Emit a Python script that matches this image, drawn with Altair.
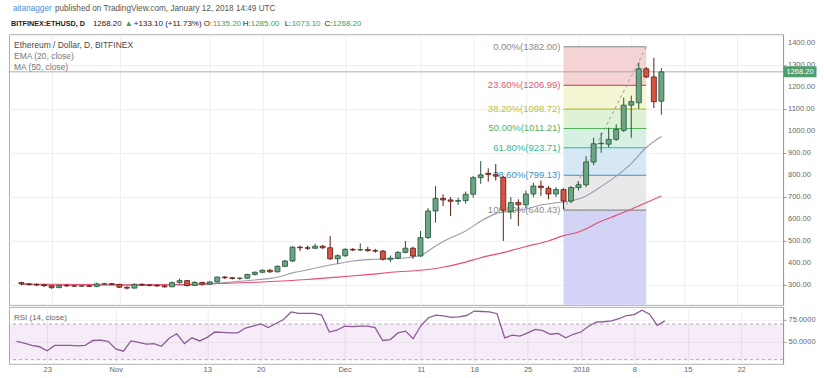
import altair as alt
import pandas as pd

START = "2017-10-19"
N = 86

opens = [312, 306, 303, 302, 298, 289, 299, 297, 296, 297,
         295, 306, 307, 304, 291, 287, 304, 301, 299, 297,
         293, 312, 321, 299, 313, 305, 315, 337, 334, 331,
         332, 349, 359, 368, 361, 386, 410, 473, 470, 468,
         477, 470, 420, 434, 463, 460, 462, 457, 455, 418,
         423, 449, 468, 433, 516, 637, 694, 687, 681, 684,
         713, 788, 808, 802, 790, 635, 675, 665, 714, 750,
         740, 714, 734, 682, 743, 756, 859, 942, 940, 962,
         1003, 1117, 1128, 1282, 1245, 1135.2]
highs = [316, 309, 308, 304, 300, 302, 304, 300, 301, 300,
         312, 311, 310, 306, 295, 308, 309, 305, 304, 299,
         317, 330, 324, 318, 315, 318, 340, 341, 337, 336,
         352, 362, 372, 374, 390, 415, 477, 479, 480, 488,
         483, 524, 440, 468, 468, 490, 474, 465, 460, 435,
         455, 501, 475, 546, 650, 750, 712, 700, 697, 725,
         795, 863, 830, 850, 795, 700, 690, 730, 765, 775,
         750, 745, 740, 750, 770, 886, 969, 992, 1015, 1030,
         1151, 1160, 1310, 1290, 1332, 1285]
lows = [300, 299, 296, 292, 284, 288, 293, 293, 292, 292,
        291, 302, 301, 287, 281, 285, 297, 295, 293, 289,
        291, 307, 294, 297, 298, 302, 312, 328, 326, 324,
        328, 344, 355, 356, 358, 382, 405, 455, 460, 465,
        465, 415, 398, 428, 455, 455, 452, 448, 412, 405,
        418, 445, 420, 428, 510, 584, 660, 614, 665, 670,
        698, 760, 770, 775, 501, 600, 569, 650, 700, 705,
        690, 700, 646, 672, 730, 745, 845, 901, 925, 955,
        995, 969, 1100, 1240, 1104, 1073.1]
closes = [306, 303, 302, 298, 289, 299, 297, 296, 297, 295,
          306, 307, 304, 291, 287, 304, 301, 299, 297, 293,
          312, 321, 299, 313, 305, 315, 337, 334, 331, 332,
          349, 359, 368, 361, 386, 410, 473, 470, 468, 477,
          470, 420, 434, 463, 460, 462, 457, 455, 418, 423,
          449, 468, 433, 516, 637, 694, 687, 681, 684, 713,
          788, 801, 802, 795, 640, 675, 665, 714, 750, 743,
          714, 734, 682, 743, 756, 859, 942, 944, 962, 1007,
          1117, 1133, 1282, 1245, 1133, 1268.2]

ema_dates = ["2017-10-19", "2017-10-24", "2017-10-29", "2017-11-03", "2017-11-08",
             "2017-11-13", "2017-11-16", "2017-11-19", "2017-11-22", "2017-11-24",
             "2017-11-26", "2017-11-28", "2017-11-30", "2017-12-02", "2017-12-05",
             "2017-12-08", "2017-12-11", "2017-12-13", "2017-12-15", "2017-12-17",
             "2017-12-19", "2017-12-21", "2017-12-23", "2017-12-25", "2017-12-27",
             "2017-12-29", "2017-12-31", "2018-01-02", "2018-01-04", "2018-01-06",
             "2018-01-08", "2018-01-10", "2018-01-12"]
ema_vals = [305, 300, 300, 299, 302, 306, 315, 324, 336, 356, 370, 385, 398, 410, 418,
            421, 436, 478, 515, 546, 590, 625, 637, 646, 664, 674, 682, 705, 748, 795,
            852, 925, 975]

ma_dates = ["2017-10-19", "2017-11-01", "2017-11-10", "2017-11-14", "2017-11-20",
            "2017-11-26", "2017-11-30", "2017-12-04", "2017-12-08", "2017-12-11",
            "2017-12-14", "2017-12-17", "2017-12-19", "2017-12-22", "2017-12-25",
            "2017-12-28", "2017-12-30", "2018-01-01", "2018-01-04", "2018-01-06",
            "2018-01-08", "2018-01-10", "2018-01-12"]
ma_vals = [306, 302, 303, 308, 315, 326, 337, 348, 361, 368, 382, 405, 425, 448, 476,
           501, 525, 542, 590, 617, 645, 675, 705]

rsi_vals = [50.5, 48.5, 46, 44.5, 40, 46, 46, 46, 45.5, 46,
            51.5, 52, 50.5, 42, 39.5, 51, 49.5, 47.5, 48, 45,
            54, 59, 48, 54.5, 51, 55, 61, 60.5, 60, 60,
            65.5, 67.5, 70, 66, 70.5, 75, 83.5, 82, 82, 82,
            80, 61, 63, 67.5, 67, 67.5, 67.5, 66, 51.5, 52.5,
            60, 62, 53.5, 68, 77, 80, 79, 77.5, 78, 79.5,
            84.5, 84, 83.5, 81.5, 54.5, 57.5, 56.5, 60, 64, 62.5,
            58.5, 59.5, 54.5, 58.5, 61, 67.5, 72, 72.5, 73.5, 76,
            79.5, 80.5, 85.5, 81, 68.5, 73.5]

tick_dates = ["2017-10-23", "2017-11-01", "2017-11-13", "2017-11-20", "2017-12-01",
              "2017-12-11", "2017-12-18", "2017-12-25", "2018-01-01", "2018-01-08",
              "2018-01-15", "2018-01-22"]
tick_labels = ["23", "Nov", "13", "20", "Dec", "11", "18", "25", "2018", "8", "15", "22"]
price_ticks = [300, 400, 500, 600, 700, 800, 900, 1000, 1100, 1200, 1300, 1400]
rsi_ticks = [50, 75]

fib_start, fib_end = "2017-12-30", "2018-01-10"
fib_pcts = [0.0, 23.6, 38.2, 50.0, 61.8, 78.6, 100.0]
fib_prices = [1382.00, 1206.99, 1098.72, 1011.21, 923.71, 799.13, 640.43]
fib_ext_price = 182.15
fib_line_colors = ["#8a8a8a", "#dc5a6a", "#b9c23c", "#55b45a", "#2fb8a0", "#3a92c6", "#8a8a8a"]
fib_band_colors = ["#f5d2d4", "#f3f5d3", "#e0f2d6", "#d7f0e4", "#d6e8f4", "#e9e9e9"]
fib_ext_color = "#d3d3f6"
last_close = 1268.20

UP_FILL, DOWN_FILL = "#6ba583", "#d75442"
UP_LINE, DOWN_LINE = "#225437", "#5b1a13"
EMA_COLOR, MA_COLOR, RSI_COLOR = "#9a9cad", "#e64d72", "#8d5a97"
FONT = "Liberation Sans"


def day(s):
    return (pd.Timestamp(s) - pd.Timestamp(START)).days


tick_days = [day(t) for t in tick_dates]
label_expr = "".join(f"datum.value == {d} ? '{l}' : " for d, l in zip(tick_days, tick_labels)) + "''"

W, H_MAIN, H_RSI = 775, 271, 57
xs = alt.Scale(domain=[-1.0, 100.5], nice=False, zero=False)
ys = alt.Scale(domain=[211, 1439], nice=False, zero=False)
rs = alt.Scale(domain=[25.4, 89.2], nice=False, zero=False)

one = pd.DataFrame({"k": [0]})

candles = pd.DataFrame({
    "d": list(range(N)), "open": opens, "high": highs, "low": lows, "close": closes,
})
candles["dir"] = ["up" if c >= o else "down" for o, c in zip(opens, closes)]

bands = pd.DataFrame({
    "x0": [day(fib_start)] * 7,
    "x1": [day(fib_end)] * 7,
    "top": fib_prices,
    "bottom": fib_prices[1:] + [fib_ext_price],
    "fill": fib_band_colors + [fib_ext_color],
})
levels = pd.DataFrame({
    "x0": [day(fib_start)] * 7,
    "x1": [day(fib_end)] * 7,
    "price": fib_prices,
    "color": fib_line_colors,
    "label": [f"{p:.2f}%({v:.2f})" for p, v in zip(fib_pcts, fib_prices)],
})
trend = pd.DataFrame({"x0": [day(fib_start)], "y0": [fib_prices[-1]],
                      "x1": [day(fib_end)], "y1": [fib_prices[0]]})
ema = pd.DataFrame({"d": [day(s) for s in ema_dates], "v": ema_vals})
ma = pd.DataFrame({"d": [day(s) for s in ma_dates], "v": ma_vals})
rsi = pd.DataFrame({"d": list(range(N)), "rsi": rsi_vals})
ptick = pd.DataFrame({"p": price_ticks, "lab": [f"{p:.2f}" for p in price_ticks]})

x_axis_main = alt.Axis(values=tick_days, labels=False, ticks=False, domain=False,
                       grid=True, gridColor="#eeeeee", title=None)
y_axis_main = alt.Axis(orient="right", values=price_ticks, labels=False, tickSize=3,
                       tickColor="#999999", domainColor="#999999", grid=True,
                       gridColor="#eeeeee", title=None)

axis_layer = alt.Chart(candles).mark_point(opacity=0).encode(
    x=alt.X("d:Q", scale=xs, axis=x_axis_main),
    y=alt.Y("close:Q", scale=ys, axis=y_axis_main),
)
price_labels = alt.Chart(ptick).mark_text(align="left", baseline="middle", dx=5,
                                          fontSize=7.5, font=FONT, color="#666666").encode(
    x=alt.value(W), y="p:Q", text="lab:N")
band_layer = alt.Chart(bands).mark_rect(clip=True).encode(
    x="x0:Q", x2="x1:Q", y="top:Q", y2="bottom:Q",
    color=alt.Color("fill:N", scale=None),
)
level_layer = alt.Chart(levels).mark_rule(strokeWidth=1.2).encode(
    x="x0:Q", x2="x1:Q", y="price:Q", color=alt.Color("color:N", scale=None))
label_layer = alt.Chart(levels).mark_text(align="right", baseline="middle", dx=-3,
                                          fontSize=9.5, font=FONT).encode(
    x="x0:Q", y="price:Q", text="label:N", color=alt.Color("color:N", scale=None))
trend_layer = alt.Chart(trend).mark_rule(strokeDash=[3, 3], color="#9a9a9a", strokeWidth=1).encode(
    x="x0:Q", y="y0:Q", x2="x1:Q", y2="y1:Q")
price_line = alt.Chart(one).mark_rule(color="#9a9a9a", strokeWidth=0.8).encode(
    y=alt.datum(last_close))
ema_layer = alt.Chart(ema).mark_line(color=EMA_COLOR, strokeWidth=1.1, interpolate="monotone").encode(
    x="d:Q", y="v:Q")
ma_layer = alt.Chart(ma).mark_line(color=MA_COLOR, strokeWidth=1.1, interpolate="monotone").encode(
    x="d:Q", y="v:Q")
wick_layer = alt.Chart(candles).mark_rule(strokeWidth=1).encode(
    x="d:Q", y="low:Q", y2="high:Q",
    color=alt.Color("dir:N", scale=alt.Scale(domain=["up", "down"], range=[UP_LINE, DOWN_LINE]),
                    legend=None))
body_layer = alt.Chart(candles).mark_bar(size=5, orient="vertical", strokeWidth=0.8).encode(
    x="d:Q", y="open:Q", y2="close:Q",
    fill=alt.Fill("dir:N", scale=alt.Scale(domain=["up", "down"], range=[UP_FILL, DOWN_FILL]),
                  legend=None),
    stroke=alt.Stroke("dir:N", scale=alt.Scale(domain=["up", "down"], range=[UP_LINE, DOWN_LINE]),
                      legend=None),
)
tag_box = alt.Chart(one).mark_tick(orient="horizontal", size=33, thickness=11,
                                   color="#4f9e72", opacity=1).encode(
    x=alt.value(792), y=alt.datum(last_close))
tag_text = alt.Chart(one).mark_text(color="white", fontSize=7.5, font=FONT,
                                    align="center", baseline="middle").encode(
    x=alt.value(792), y=alt.datum(last_close), text=alt.value(f"{last_close:.2f}"))

texts = [
    # (text, x, y, color, size, weight)
    ("aitanagger", 4, -25, "#4a8fd6", 8.2, "normal"),
    ("published on TradingView.com, January 12, 2018 14:49 UTC", 46, -25, "#555555", 8.2, "normal"),
    ("BITFINEX:ETHUSD, D", 2, -10.5, "#222222", 7.2, "bold"),
    ("1268.20", 84, -10.5, "#222222", 8, "normal"),
    ("▲", 116, -10.5, "#3c9c5c", 8, "normal"),
    ("+133.10 (+11.73%)", 125, -10.5, "#222222", 8, "normal"),
    ("O:", 195, -10.5, "#222222", 8, "normal"),
    ("1135.20", 204, -10.5, "#3ca05c", 8, "normal"),
    ("H:", 234, -10.5, "#222222", 8, "normal"),
    ("1285.00", 242, -10.5, "#3ca05c", 8, "normal"),
    ("L:", 276, -10.5, "#222222", 8, "normal"),
    ("1073.10", 283, -10.5, "#3ca05c", 8, "normal"),
    ("C:", 316, -10.5, "#222222", 8, "normal"),
    ("1268.20", 324, -10.5, "#3ca05c", 8, "normal"),
    ("Ethereum / Dollar, D, BITFINEX", 5, 10.5, "#4a4a4a", 8.5, "normal"),
    ("EMA (20, close)", 5, 21.5, "#777777", 8.5, "normal"),
    ("MA (50, close)", 5, 33, "#777777", 8.5, "normal"),
]
text_layers = [
    alt.Chart(one).mark_text(align="left", baseline="middle", font=FONT, fontSize=s,
                             fontWeight=w, color=c).encode(
        x=alt.value(x), y=alt.value(y), text=alt.value(t))
    for (t, x, y, c, s, w) in texts
]

main = alt.layer(
    axis_layer, band_layer, level_layer, label_layer, trend_layer, price_line,
    ema_layer, ma_layer, wick_layer, body_layer, price_labels, tag_box, tag_text, *text_layers
).properties(width=W, height=H_MAIN)

x_axis_rsi = alt.Axis(values=tick_days, labelExpr=label_expr, ticks=False, domain=False,
                      grid=True, gridColor="#eeeeee", labelFontSize=7.5, labelColor="#666666",
                      labelPadding=2, title=None, labelFont=FONT, labelOverlap=False)
y_axis_rsi = alt.Axis(orient="right", values=rsi_ticks, format=".4f", labelFontSize=7.5,
                      labelColor="#666666", tickSize=3, tickColor="#999999",
                      domainColor="#999999", grid=True, gridColor="#f0f0f0",
                      labelPadding=2, title=None, labelFont=FONT, labelOverlap=False)

rsi_base = alt.Chart(rsi).mark_line(opacity=0).encode(
    x=alt.X("d:Q", scale=xs, axis=x_axis_rsi),
    y=alt.Y("rsi:Q", scale=rs, axis=y_axis_rsi))
rsi_band = alt.Chart(one).mark_rect(color="#9c27b0", opacity=0.09).encode(
    x=alt.value(0), x2=alt.value(W), y=alt.datum(70), y2=alt.datum(30))
rsi_dash = alt.Chart(pd.DataFrame({"lvl": [70, 30]})).mark_rule(
    strokeDash=[3, 3], color="#aaaaaa", strokeWidth=1).encode(y="lvl:Q")
rsi_line = alt.Chart(rsi).mark_line(color=RSI_COLOR, strokeWidth=1.3).encode(
    x="d:Q", y="rsi:Q")
rsi_title = alt.Chart(one).mark_text(align="left", baseline="middle", font=FONT, fontSize=8,
                                     color="#666666").encode(
    x=alt.value(5), y=alt.value(11), text=alt.value("RSI (14, close)"))

rsi_chart = alt.layer(rsi_base, rsi_band, rsi_dash, rsi_line, rsi_title).properties(
    width=W, height=H_RSI)

chart = alt.vconcat(main, rsi_chart, spacing=0).configure(
    padding={"left": 8, "top": 3, "right": 7, "bottom": 7},
    font=FONT,
).configure_view(stroke="#b0b0b0", strokeWidth=1).configure_axis(labelOverlap=False)

chart.save("out.html", embed_options={"renderer": "svg", "actions": False})
